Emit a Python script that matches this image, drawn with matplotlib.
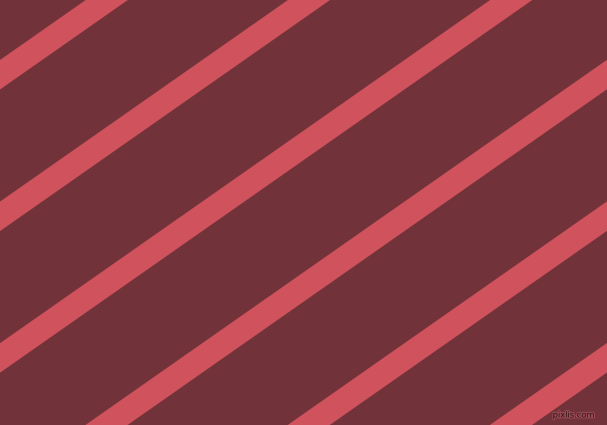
import numpy as np
import matplotlib
matplotlib.use('Agg')
import matplotlib.pyplot as plt
import matplotlib.patheffects as pe

# diagonal stripe pattern (pixels)
stripe_offsets = [60, 201.6, 343.2, 484.8, 626.4, 768]  # upper edge y at x=0
stripe_thickness = 29.5  # vertical thickness
slope = np.tan(np.radians(35))

bg_color = '#713339'
stripe_color = '#CF525C'

W, H = 607, 425
fig = plt.figure(figsize=(W / 100, H / 100), dpi=100)
fig.patch.set_facecolor(bg_color)
ax = fig.add_axes([0, 0, 1, 1])
ax.set_facecolor(bg_color)
ax.set_xlim(0, W)
ax.set_ylim(H, 0)
ax.axis('off')

x = np.array([-10, W + 10])
for b in stripe_offsets:
    ax.fill_between(x, b - slope * x, b + stripe_thickness - slope * x,
                    color=stripe_color, linewidth=0)

ax.text(595, 415, 'pixlis.com', fontsize=6, color='#2e1215',
        ha='right', va='center', family='DejaVu Sans',
        path_effects=[pe.withStroke(linewidth=1.5, foreground='#9a4a55')])

fig.savefig('out.png', dpi=100, facecolor=bg_color)
